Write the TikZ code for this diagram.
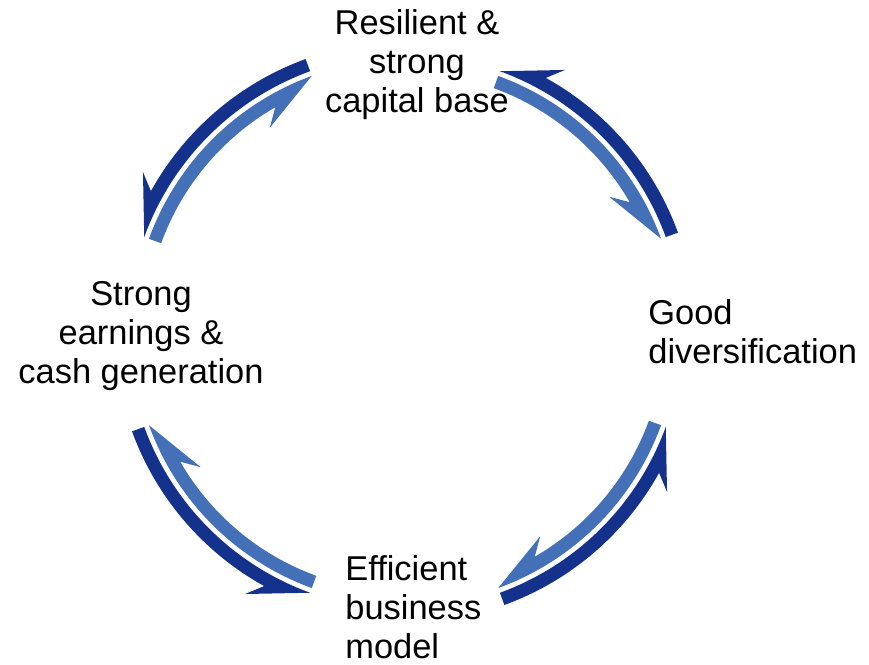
\documentclass[tikz,border=0pt]{standalone}
\usepackage{fontspec}
\setmainfont{Liberation Sans}
\definecolor{cycledark}{RGB}{20,50,140}
\definecolor{cyclelight}{RGB}{68,112,184}
\tikzset{
    label/.style={inner sep=0pt, font=\fontsize{19.6pt}{22.2pt}\selectfont},
    darkarrow/.style={fill=cycledark},
    lightarrow/.style={fill=cyclelight}
}
% outer arrow runs counterclockwise, inner one clockwise
\newcommand{\darkarc}[1]{
    \fill[darkarrow] (#1:290.5) arc[start angle=#1, end angle=#1+41, radius=290.5]
        -- (#1+38.6:307) -- (#1+50:277.5)
        arc[start angle=#1+50, end angle=#1, radius=277.5] -- cycle;
}
\newcommand{\lightarc}[1]{
    \fill[lightarrow] (#1+50:259.5) arc[start angle=#1+50, end angle=#1+10, radius=259.5]
        -- (#1+13.5:245) -- (#1:272.5)
        arc[start angle=#1, end angle=#1+50, radius=272.5] -- cycle;
}
\begin{document}
\begin{tikzpicture}[x=0.02cm, y=0.02cm]
    \useasboundingbox (0,0) rectangle (869,665);

    \node[label, align=center, anchor=north] (capital) at (417,656) {Resilient \&\\strong\\capital base};
    \node[label, align=center, anchor=north] (earnings) at (141,384) {Strong\\earnings \&\\cash generation};
    \node[label, align=left, anchor=north west] (divers) at (648,366) {Good\\diversification};
    \node[label, align=left, anchor=north west] (model) at (345,110) {Efficient\\business\\model};

    \begin{scope}[shift={(405,333)}]
        \darkarc{20}
        \lightarc{20}
        \darkarc{110}
        \lightarc{110}
        \darkarc{200}
        \lightarc{200}
        \darkarc{290}
        \lightarc{290}
    \end{scope}
\end{tikzpicture}
\end{document}
